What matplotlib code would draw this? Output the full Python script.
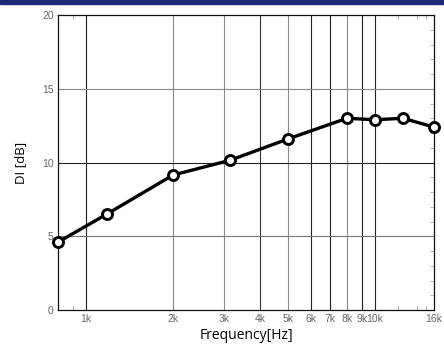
import numpy as np
import matplotlib
matplotlib.use('Agg')
import matplotlib.pyplot as plt
from matplotlib.patches import Rectangle

# measured directivity index
freq = [800, 1180, 2000, 3150, 5000, 8000, 10000, 12500, 16000]
di = [4.6, 6.5, 9.15, 10.15, 11.6, 13.0, 12.9, 13.0, 12.4]

xticks = [1000, 2000, 3000, 4000, 5000, 6000, 7000, 8000, 9000, 10000, 16000]
xlabels = ['1k', '2k', '3k', '4k', '5k', '6k', '7k', '8k', '9k', '10k', '16k']
yticks = [0, 5, 10, 15, 20]

# gridline shades as they look in the picture
vgrid = [(1000, '#222222'), (2000, '#8a8a8a'), (3000, '#8a8a8a'), (4000, '#333333'),
         (5000, '#8a8a8a'), (6000, '#222222'), (7000, '#222222'), (8000, '#8a8a8a'),
         (9000, '#222222'), (10000, '#222222')]
hgrid = [(5, '#777777'), (10, '#222222'), (15, '#8a8a8a')]

fig = plt.figure(figsize=(4.44, 3.45), dpi=100)
fig.patches.append(Rectangle((0, 0.987), 1, 0.013, transform=fig.transFigure,
                             color='#23297a', zorder=0))
ax = fig.add_axes([0.1306, 0.1014, 0.8469, 0.8551])

for f, c in vgrid:
    ax.axvline(f, color=c, lw=0.8, zorder=1)
for v, c in hgrid:
    ax.axhline(v, color=c, lw=0.8, zorder=1)

ax.plot(freq, di, color='black', lw=2.4, marker='o', markersize=7.2,
        markerfacecolor='white', markeredgecolor='black', markeredgewidth=2.1,
        zorder=3, clip_on=False)

ax.set_xscale('log')
ax.set_xlim(800, 16000)
ax.set_ylim(0, 20)
ax.set_xticks(xticks)
ax.set_xticklabels(xlabels)
ax.set_xticks([900, 12000, 14000, 15000], minor=True)
ax.set_xticklabels([], minor=True)
ax.set_yticks(yticks)
ax.set_yticks(np.arange(1, 20), minor=True)
ax.tick_params(axis='both', which='major', length=0, labelsize=7.5,
               labelcolor='#666666', pad=3, labelfontfamily='Liberation Sans')
ax.tick_params(axis='x', which='minor', direction='in', length=3,
               color='#999999', top=True)
ax.tick_params(axis='y', which='minor', direction='in', length=3,
               color='#aaaaaa', left=False, right=True)

for s in ax.spines.values():
    s.set_linewidth(0.9)
    s.set_color('#111111')

ax.set_xlabel('Frequency[Hz]', fontsize=10, family='Open Sans', labelpad=3)
ax.set_ylabel('DI [dB]', fontsize=9.5, family='Open Sans', labelpad=11)

fig.savefig('out.png', dpi=100)
